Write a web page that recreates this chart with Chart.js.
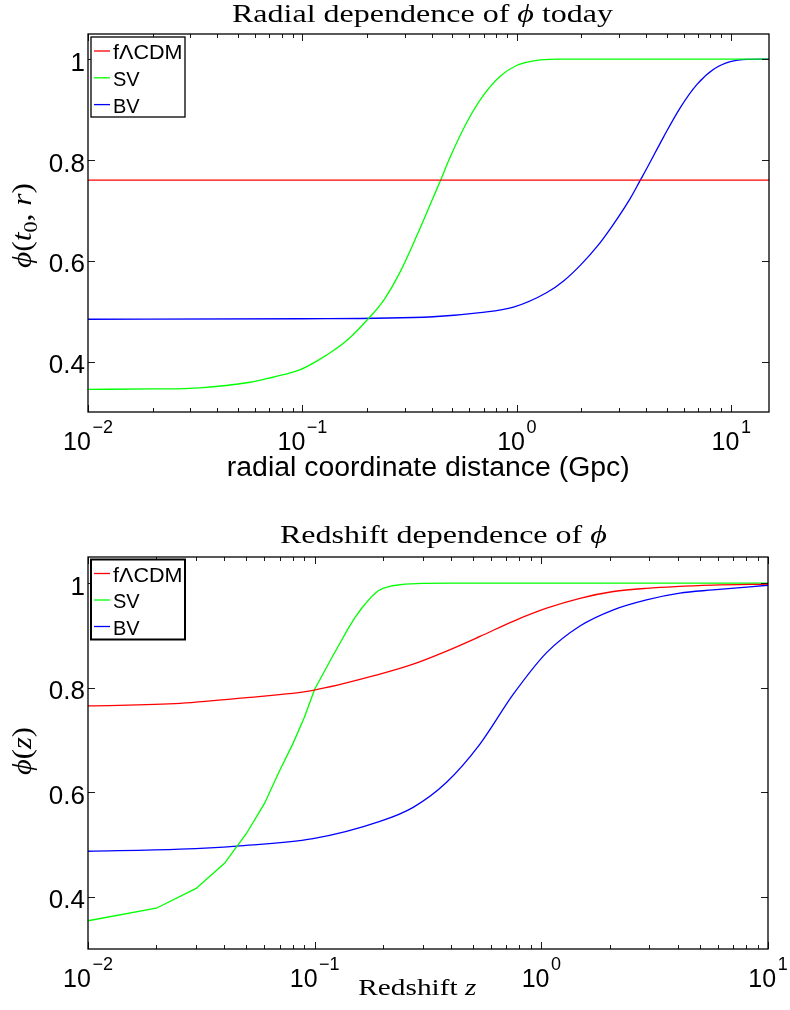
<!DOCTYPE html>
<html><head><meta charset="utf-8">
<script src="https://cdn.jsdelivr.net/npm/chart.js@4.4.1/dist/chart.umd.min.js"></script>
<style>
html,body{margin:0;padding:0;background:#fff;width:790px;height:1010px;overflow:hidden}
.box{position:absolute;left:0;width:790px;height:505px}
</style></head><body>
<div class="box" style="top:0"><canvas id="c1" width="790" height="505"></canvas></div>
<div class="box" style="top:505px"><canvas id="c2" width="790" height="505"></canvas></div>
<script>
// ---------- data ----------
const seriesNames = ['f\u039BCDM', 'SV', 'BV'];
const seriesColors = ['#ff0000', '#00ff00', '#0000ff'];

// top panel: phi(t0, r) vs r (Gpc)
const rLCDM = [0.01, 15];
const phiLCDM_r = [0.76, 0.76];
const rSV = [0.01, 0.02, 0.0333, 0.057, 0.0682, 0.0815, 0.0976, 0.1167, 0.1396, 0.167, 0.1998, 0.2388, 0.2857, 0.3418, 0.4087, 0.4391, 0.4889, 0.5849, 0.6994, 0.8366, 1.001, 1.197, 1.286, 1.6, 15];
const phiSV_r = [0.345, 0.3457, 0.348, 0.359, 0.366, 0.374, 0.384, 0.401, 0.422, 0.448, 0.482, 0.521, 0.578, 0.650, 0.727, 0.758, 0.806, 0.875, 0.9285, 0.966, 0.988, 0.9966, 0.9986, 1.0, 1.0];
const rBV = [0.01, 0.1, 0.407, 0.675, 0.965, 1.381, 1.652, 1.976, 2.364, 2.826, 3.382, 3.766, 4.047, 4.838, 5.788, 6.924, 8.278, 9.904, 11.85, 15];
const phiBV_r = [0.484, 0.485, 0.489, 0.497, 0.508, 0.537, 0.560, 0.591, 0.628, 0.673, 0.724, 0.760, 0.784, 0.846, 0.904, 0.950, 0.980, 0.995, 0.9995, 1.0];

// bottom panel: phi(z) vs redshift z
const zLCDM = [0.01, 0.0255, 0.0502, 0.0984, 0.194, 0.272, 0.382, 0.536, 0.751, 1.055, 1.48, 2.08, 2.91, 5.73, 10];
const phiLCDM_z = [0.765, 0.770, 0.781, 0.795, 0.826, 0.845, 0.870, 0.898, 0.927, 0.952, 0.971, 0.984, 0.990, 0.996, 0.998];
const zSV = [0.01, 0.02, 0.03, 0.04, 0.05, 0.06, 0.07, 0.08, 0.09, 0.10, 0.11, 0.12, 0.13, 0.14, 0.15, 0.16, 0.17, 0.18, 0.19, 0.20, 0.22, 0.25, 0.30, 0.40, 10];
const phiSV_z = [0.354, 0.378, 0.416, 0.464, 0.521, 0.578, 0.641, 0.692, 0.743, 0.797, 0.830, 0.860, 0.887, 0.912, 0.933, 0.950, 0.964, 0.976, 0.985, 0.990, 0.995, 0.998, 0.9995, 1.0, 1.0];
const zBV = [0.01, 0.0255, 0.0453, 0.0984, 0.194, 0.272, 0.382, 0.536, 0.751, 1.055, 1.48, 2.08, 2.91, 4.08, 5.73, 10];
const phiBV_z = [0.487, 0.491, 0.497, 0.511, 0.544, 0.571, 0.619, 0.692, 0.787, 0.867, 0.918, 0.949, 0.968, 0.981, 0.987, 0.996];

// ticks
const yTicks = [0.4, 0.6, 0.8, 1];
const yTickLabels = ['0.4', '0.6', '0.8', '1'];
const xDecadesTop = [0.01, 0.1, 1, 10];
const xExpTop = ['\u22122', '\u22121', '0', '1'];
const xDecadesBot = [0.01, 0.1, 1, 10];
const xExpBot = ['\u22122', '\u22121', '0', '1'];

// ---------- helpers ----------
const SANS = '"Liberation Sans", Arial, Helvetica, sans-serif';
const SERIF = '"Liberation Serif", "Times New Roman", serif';

function pts(xs, ys) { return xs.map((x, i) => ({ x: x, y: ys[i] })); }

function segFont(s, size) {
  const sz = s.sub ? size * 0.7 : size;
  return (s.it ? 'italic ' : '') + sz.toFixed(1) + 'px ' + SERIF;
}
function richWidth(ctx, segs, size) {
  let w = 0;
  for (const s of segs) { ctx.font = segFont(s, size); w += ctx.measureText(s.t).width; }
  return w;
}
// draw rich serif text; target width w (stretch) or stretch sx
function drawRich(ctx, segs, x, y, size, opt) {
  const raw = richWidth(ctx, segs, size);
  const sx = opt.w ? opt.w / raw : (opt.sx || 1);
  const w = raw * sx;
  const x0 = opt.align === 'center' ? x - w / 2 : x;
  ctx.save();
  ctx.translate(x0, y);
  ctx.scale(sx, 1);
  let cx = 0;
  ctx.textAlign = 'left'; ctx.textBaseline = 'alphabetic';
  for (const s of segs) {
    ctx.font = segFont(s, size);
    ctx.fillText(s.t, cx, s.sub ? size * 0.22 : 0);
    cx += ctx.measureText(s.t).width;
  }
  ctx.restore();
  return sx;
}
function drawFitSans(ctx, text, size, x, y, targetW, align) {
  ctx.save();
  ctx.font = size + 'px ' + SANS;
  const w = ctx.measureText(text).width;
  const sx = targetW ? targetW / w : 1;
  const x0 = align === 'center' ? x - w * sx / 2 : (align === 'right' ? x - w * sx : x);
  ctx.translate(x0, y); ctx.scale(sx, 1);
  ctx.textAlign = 'left'; ctx.textBaseline = 'alphabetic';
  ctx.fillText(text, 0, 0);
  ctx.restore();
}

const titleSegsTop = [{ t: 'Radial dependence of ' }, { t: '\u03D5', it: true }, { t: ' today' }];
const TITLE_SIZE = 25;
let titleStretch = 1.2;

function makeDeco(cfg) {
  return {
    id: 'deco' + cfg.key,
    afterDatasetsDraw(chart) {
      const ctx = chart.ctx, a = chart.chartArea, xs = chart.scales.x, ys = chart.scales.y;
      const line = (x1, y1, x2, y2) => { ctx.beginPath(); ctx.moveTo(x1, y1); ctx.lineTo(x2, y2); ctx.stroke(); };
      ctx.save();
      ctx.strokeStyle = '#1a1a1a';
      ctx.lineWidth = 1;
      // x ticks (log, with minor ticks), inward on bottom and top
      const lo = Math.floor(Math.log10(xs.min)), hi = Math.ceil(Math.log10(xs.max));
      for (let d = lo; d <= hi; d++) {
        for (let k = 1; k <= 9; k++) {
          const v = k * Math.pow(10, d);
          if (v < xs.min * 0.999 || v > xs.max * 1.001) continue;
          const px = Math.round(xs.getPixelForValue(v)) + 0.5;
          const L = k === 1 ? 7 : 4;
          line(px, a.bottom, px, a.bottom - L);
          line(px, a.top, px, a.top + L);
        }
      }
      // y ticks, inward on left and right
      cfg.yTicks.forEach(v => {
        const py = Math.round(ys.getPixelForValue(v)) + 0.5;
        line(a.left, py, a.left + 7, py);
        line(a.right, py, a.right - 7, py);
      });
      // axes box
      ctx.strokeStyle = '#000';
      ctx.lineWidth = 1.3;
      ctx.strokeRect(a.left, a.top, a.right - a.left, a.bottom - a.top);

      // legend
      const L = cfg.legend;
      ctx.fillStyle = '#fff';
      ctx.fillRect(L.x, L.y, L.w, L.h);
      ctx.lineWidth = L.lw;
      ctx.strokeStyle = '#000';
      ctx.strokeRect(L.x, L.y, L.w, L.h);
      chart.data.datasets.forEach((ds, i) => {
        const ly = L.y + L.first + i * L.step;
        ctx.strokeStyle = ds.borderColor;
        ctx.lineWidth = 1.3;
        line(L.x + 3, ly, L.x + 19, ly);
        ctx.fillStyle = '#000';
        drawFitSans(ctx, ds.label, 20, L.x + 22, ly + 8.3, ds.label.length > 2 ? 69.5 : null, 'left');
      });
      ctx.restore();
    },
    afterDraw(chart) {
      const ctx = chart.ctx, a = chart.chartArea, xs = chart.scales.x, ys = chart.scales.y;
      ctx.save();
      ctx.fillStyle = '#000';
      // y tick labels
      ctx.textAlign = 'right'; ctx.textBaseline = 'alphabetic';
      cfg.yTicks.forEach((v, i) => {
        const py = ys.getPixelForValue(v);
        ctx.font = '26px ' + SANS;
        ctx.textAlign = 'right';
        ctx.fillText(cfg.yTickLabels[i], 85, py + 11.5);
      });
      // x tick labels 10^n
      cfg.xDecades.forEach((v, i) => {
        const px = xs.getPixelForValue(v);
        ctx.font = '25px ' + SANS;
        const w10 = ctx.measureText('10').width;
        ctx.font = '18px ' + SANS;
        const we = ctx.measureText(cfg.xExp[i]).width;
        const tot = w10 + 1.5 + we;
        const x0 = px - tot / 2;
        ctx.textAlign = 'left';
        ctx.font = '25px ' + SANS;
        ctx.fillText('10', x0, a.bottom + 38);
        ctx.font = '18px ' + SANS;
        ctx.fillText(cfg.xExp[i], x0 + w10 + 1.5, a.bottom + 21);
      });
      // title
      if (cfg.title.w) {
        titleStretch = drawRich(ctx, cfg.title.segs, cfg.title.x, cfg.title.y, TITLE_SIZE, { w: cfg.title.w, align: cfg.title.align });
      } else {
        drawRich(ctx, cfg.title.segs, cfg.title.x, cfg.title.y, TITLE_SIZE, { sx: titleStretch, align: cfg.title.align });
      }
      // x label
      if (cfg.xlabel.sans) {
        drawFitSans(ctx, cfg.xlabel.text, 27, cfg.xlabel.x, cfg.xlabel.y, cfg.xlabel.w, 'center');
      } else {
        drawRich(ctx, cfg.xlabel.segs, cfg.xlabel.x, cfg.xlabel.y, cfg.xlabel.size, { w: cfg.xlabel.w, align: 'left' });
      }
      // y label (rotated)
      ctx.save();
      ctx.translate(cfg.ylabel.x, cfg.ylabel.y);
      ctx.rotate(-Math.PI / 2);
      drawRich(ctx, cfg.ylabel.segs, 0, 0, cfg.ylabel.size, { w: cfg.ylabel.w, align: 'center' });
      ctx.restore();
      ctx.restore();
    }
  };
}

function ds(i, xs, ys, smooth) {
  return {
    label: seriesNames[i],
    data: pts(xs, ys),
    borderColor: seriesColors[i],
    backgroundColor: seriesColors[i],
    borderWidth: 1.3,
    pointRadius: 0,
    fill: false,
    tension: smooth ? 0.4 : 0,
    cubicInterpolationMode: smooth ? 'monotone' : 'default'
  };
}

function makeChart(id, datasets, xmin, xmax, pad, deco) {
  return new Chart(document.getElementById(id), {
    type: 'line',
    data: { datasets: datasets },
    options: {
      responsive: false, animation: false, devicePixelRatio: 1,
      layout: { padding: pad },
      plugins: { legend: { display: false }, tooltip: { enabled: false }, title: { display: false } },
      scales: {
        x: { type: 'logarithmic', min: xmin, max: xmax, display: false },
        y: { type: 'linear', min: 0.3, max: 1.05, display: false }
      }
    },
    plugins: [makeDeco(deco)]
  });
}

const PHI = '\u03D5';

makeChart('c1', [
  ds(0, rLCDM, phiLCDM_r, false),
  ds(1, rSV, phiSV_r, true),
  ds(2, rBV, phiBV_r, true)
], 0.01, 15, { left: 88, top: 34, right: 21, bottom: 93 }, {
  key: 1,
  yTicks: yTicks, yTickLabels: yTickLabels,
  xDecades: xDecadesTop, xExp: xExpTop,
  legend: { x: 91, y: 37, w: 94, h: 80, first: 14, step: 26.8, lw: 1.3 },
  title: { segs: titleSegsTop, x: 232, y: 22, w: 381, align: 'left' },
  xlabel: { sans: true, text: 'radial coordinate distance (Gpc)', x: 428.3, y: 476, w: 403 },
  ylabel: { segs: [{ t: PHI, it: true }, { t: '(' }, { t: 't', it: true }, { t: '0', sub: true }, { t: ', ' }, { t: 'r', it: true }, { t: ')' }], x: 31, y: 225.5, size: 27, w: 85 }
});

makeChart('c2', [
  ds(0, zLCDM, phiLCDM_z, true),
  ds(1, zSV, phiSV_z, false),
  ds(2, zBV, phiBV_z, true)
], 0.01, 10, { left: 88, top: 52, right: 22, bottom: 61 }, {
  key: 2,
  yTicks: yTicks, yTickLabels: yTickLabels,
  xDecades: xDecadesBot, xExp: xExpBot,
  legend: { x: 91, y: 54.5, w: 94, h: 80, first: 14, step: 26.5, lw: 2 },
  title: { segs: [{ t: 'Redshift dependence of ' }, { t: PHI, it: true }], x: 280, y: 38.3, align: 'left' },
  xlabel: { sans: false, segs: [{ t: 'Redshift ' }, { t: 'z', it: true }], x: 358.3, y: 490, size: 23, w: 118 },
  ylabel: { segs: [{ t: PHI, it: true }, { t: '(' }, { t: 'z', it: true }, { t: ')' }], x: 31, y: 246, size: 27, w: 48 }
});
</script>
</body></html>
